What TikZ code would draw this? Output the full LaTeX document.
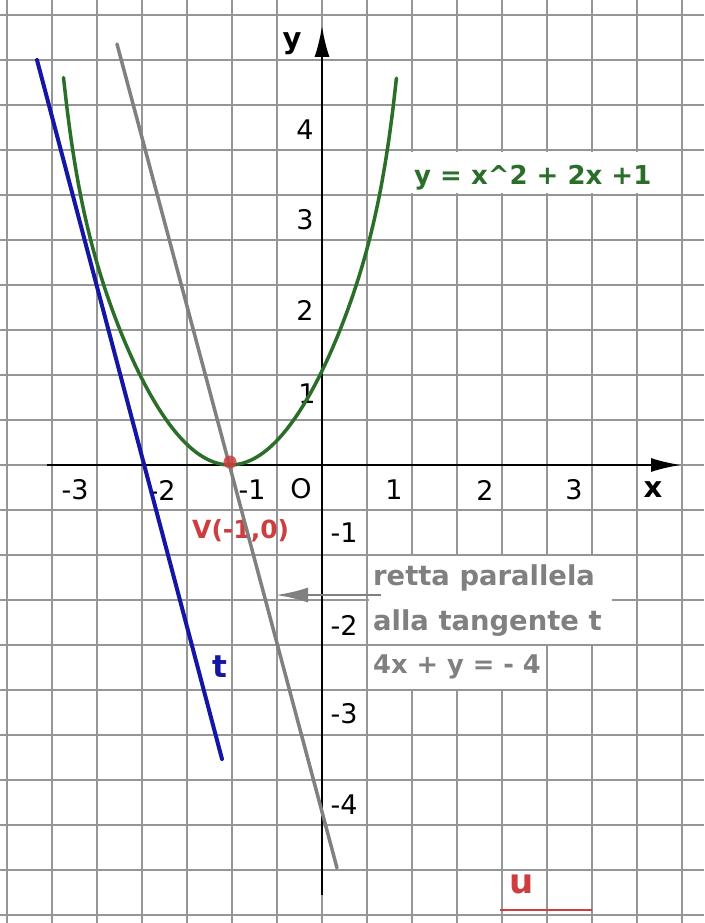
\documentclass[tikz,border=0pt]{standalone}
\usepackage{fontspec}
\setmainfont{DejaVu Sans}
\usetikzlibrary{arrows.meta}
\definecolor{gridc}{RGB}{150,150,150}
\definecolor{curveg}{RGB}{42,110,42}
\definecolor{tblue}{RGB}{22,22,165}
\definecolor{pgray}{RGB}{128,128,128}
\definecolor{vred}{RGB}{205,62,62}
\tikzset{
  gridline/.style={draw=gridc, line width=1.6pt},
  axisline/.style={draw=black, line width=2pt},
  ticklbl/.style={font=\fontsize{27}{30}\selectfont, inner sep=0pt, text=black},
  axlbl/.style={font=\bfseries\fontsize{29}{32}\selectfont, inner sep=0pt, text=black},
  eqlbl/.style={font=\bfseries\fontsize{27.4}{30}\selectfont, inner sep=0pt, anchor=west},
  whitebox/.style={fill=white, draw=none},
}
\begin{document}
\begin{tikzpicture}[x=1pt, y=-1pt]
\useasboundingbox (0,0) rectangle (704,923);
\fill[white] (0,0) rectangle (704,923);
% grid
\foreach \i in {0,...,15} \draw[gridline] ({7+45*\i},0) -- ({7+45*\i},923);
\foreach \j in {0,...,20} \draw[gridline] (0,{15+45*\j}) -- (704,{15+45*\j});
% white text boxes hiding the grid
\fill[whitebox] (409,152) rectangle (666,193);
\fill[whitebox] (369,556) rectangle (612,644);
\fill[whitebox] (369,646) rectangle (545,689);

% label V (under the lines)
\node[eqlbl, text=vred, font=\bfseries\fontsize{25}{28}\selectfont] (vlab) at (192,531) {V(-1,0)};

% axes
\coordinate (xs) at (47,465);
\coordinate (xe) at (681,465);
\coordinate (ys) at (322,895);
\coordinate (ye) at (322,26);
\draw[axisline, -{Latex[length=30pt,width=14pt]}] (xs) -- (xe);
\draw[axisline, -{Latex[length=31pt,width=15pt]}] (ys) -- (ye);

% tick labels
\node[ticklbl] (tm3) at (75,490) {-3};
\node[ticklbl] (tm2) at (162,490) {-2};
\node[ticklbl] (tm1) at (252,490) {-1};
\node[ticklbl] (to) at (301,489) {O};
\node[ticklbl] (tp1) at (394,490) {1};
\node[ticklbl] (tp2) at (485,490) {2};
\node[ticklbl] (tp3) at (574,490) {3};
\node[axlbl] (xl) at (653,490) {x};
\node[axlbl] (yl) at (292,44) {y};
\node[ticklbl] (y4) at (305,130) {4};
\node[ticklbl] (y3) at (305,220) {3};
\node[ticklbl] (y2) at (305,310) {2};
\node[ticklbl] (y1) at (307,394) {1};
\node[ticklbl] (ym1) at (344,533) {-1};
\node[ticklbl] (ym2) at (344,625) {-2};
\node[ticklbl] (ym3) at (344,714) {-3};
\node[ticklbl] (ym4) at (344,805) {-4};

% tangent t (blue)
\coordinate (t1) at (37,60);
\coordinate (t2) at (222,759);
\draw[tblue, line width=4pt, line cap=round] (t1) -- (t2);

% parallel line (gray)
\coordinate (g1) at (117,44);
\coordinate (g2) at (337,868);
\draw[pgray, line width=3.5pt, line cap=round] (g1) -- (g2);

% parabola (as drawn in the original, slightly steeper at the ends)
\draw[curveg, line width=3.5pt, line cap=round]
  plot[domain=-1.85:1.85, samples=90, smooth]
  ({230+90*\x},{465-90*(\x*\x+0.000556*(\x*\x)^6)});

% vertex
\fill[vred, opacity=0.85] (230,462) circle (6.5pt);

% labels
\node[eqlbl, text=curveg, font=\bfseries\fontsize{26}{30}\selectfont] (eq) at (414,178) {y = x\textasciicircum 2 + 2x +1};
\node[eqlbl, text=pgray] (r1) at (373,578) {retta parallela};
\node[eqlbl, text=pgray] (r2) at (373,623) {alla tangente t};
\node[eqlbl, text=pgray, font=\bfseries\fontsize{25.7}{28}\selectfont] (r3) at (373,667) {4x + y = - 4};
\node[axlbl, text=tblue, font=\bfseries\fontsize{31}{34}\selectfont] (tl) at (220,667) {t};
\node[axlbl, text=vred, font=\bfseries\fontsize{34}{36}\selectfont] (ul) at (522,884) {u};
\coordinate (u1) at (500,910);
\coordinate (u2) at (592,910);
\draw[vred, line width=2.5pt] (u1) -- (u2);

% arrow to the parallel line
\coordinate (aS) at (381,595);
\coordinate (aE) at (276,595);
\draw[pgray, line width=2.5pt, -{Latex[length=32pt,width=15pt]}] (aS) -- (aE);
\end{tikzpicture}
\end{document}
